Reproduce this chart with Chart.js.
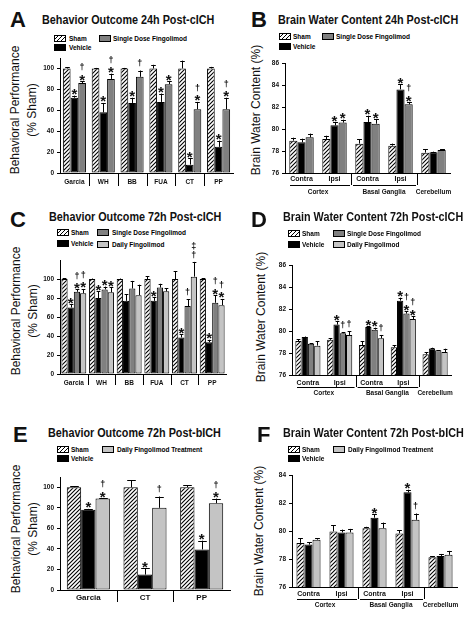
<!DOCTYPE html>
<html lang="en">
<head>
<meta charset="UTF-8" />
<title>Fingolimod after ICH</title>
<script src="https://cdn.jsdelivr.net/npm/chart.js"></script>
<style>
  body { margin: 0; background: #fff; font-family: Arial, "Liberation Sans", sans-serif; color: #111; }
  #page { position: relative; width: 472px; height: 619px; overflow: hidden; }
  canvas { position: absolute; }
  .letter { position: absolute; font-weight: bold; font-size: 22px; line-height: 1; }
  .title { position: absolute; font-weight: bold; font-size: 12px; line-height: 12px; white-space: nowrap;
           transform: scaleX(0.9); transform-origin: left center; }
  .ytitle { position: absolute; font-size: 12px; line-height: 17px; white-space: nowrap; text-align: center;
            transform: translate(-50%, -50%) rotate(-90deg); }
  .box { position: absolute; box-sizing: border-box; width: 12px; height: 7px; border: 1px solid #000; }
  .sham { background: repeating-linear-gradient(135deg, #fff 0 1.6px, #000 1.6px 2.8px); }
  .veh { background: #000; }
  .single { background: #808080; }
  .daily { background: #c4c4c4; }
  .lab { position: absolute; font-size: 6.5px; font-weight: bold; line-height: 7px; white-space: nowrap; color: #000;
         -webkit-font-smoothing: antialiased; }
</style>
</head>
<body>
<div id="page">
  <!-- A -->
  <div class="letter" style="left:10px;top:9px">A</div>
  <div class="title" style="left:42px;top:14px">Behavior Outcome 24h Post-cICH</div>
  <div class="box sham" style="left:54px;top:35px"></div><div class="lab" style="left:69px;top:35px">Sham</div>
  <div class="box veh" style="left:54px;top:44px"></div><div class="lab" style="left:69px;top:44px">Vehicle</div>
  <div class="box single" style="left:99px;top:35px"></div><div class="lab" style="left:113px;top:35px">Single Dose Fingolimod</div>
  <div class="ytitle" style="left:23.5px;top:110px">Behavioral Performance<br>(% Sham)</div>
  <canvas id="cA" width="240" height="140" style="left:0;top:50px"></canvas>

  <!-- B -->
  <div class="letter" style="left:251px;top:9px">B</div>
  <div class="title" style="left:278px;top:14px">Brain Water Content 24h Post-cICH</div>
  <div class="box sham" style="left:279px;top:33px"></div><div class="lab" style="left:293px;top:33px">Sham</div>
  <div class="box veh" style="left:279px;top:43px"></div><div class="lab" style="left:293px;top:43px">Vehicle</div>
  <div class="box single" style="left:322px;top:33px"></div><div class="lab" style="left:336px;top:33px">Single Dose Fingolimod</div>
  <div class="ytitle" style="left:256px;top:110px">Brain Water Content (%)</div>
  <canvas id="cB" width="236" height="150" style="left:236px;top:50px"></canvas>

  <!-- C -->
  <div class="letter" style="left:10px;top:209px">C</div>
  <div class="title" style="left:49px;top:211px">Behavior Outcome 72h Post-cICH</div>
  <div class="box sham" style="left:57px;top:229px"></div><div class="lab" style="left:71px;top:229px">Sham</div>
  <div class="box single" style="left:97px;top:229px"></div><div class="lab" style="left:112px;top:229px">Single Dose Fingolimod</div>
  <div class="box veh" style="left:57px;top:240px"></div><div class="lab" style="left:71px;top:240px">Vehicle</div>
  <div class="box daily" style="left:97px;top:241px"></div><div class="lab" style="left:112px;top:241px">Daily Fingolimod</div>
  <div class="ytitle" style="left:25px;top:311px">Behavioral Performance<br>(% Sham)</div>
  <canvas id="cC" width="240" height="160" style="left:0;top:235px"></canvas>

  <!-- D -->
  <div class="letter" style="left:251px;top:209px">D</div>
  <div class="title" style="left:283px;top:211px">Brain Water Content 72h Post-cICH</div>
  <div class="box sham" style="left:288px;top:230px"></div><div class="lab" style="left:302px;top:230px">Sham</div>
  <div class="box single" style="left:333px;top:230px"></div><div class="lab" style="left:347px;top:230px">Single Dose Fingolimod</div>
  <div class="box veh" style="left:288px;top:241px"></div><div class="lab" style="left:302px;top:241px">Vehicle</div>
  <div class="box daily" style="left:333px;top:241px"></div><div class="lab" style="left:347px;top:241px">Daily Fingolimod</div>
  <div class="ytitle" style="left:261px;top:317px">Brain Water Content (%)</div>
  <canvas id="cD" width="236" height="155" style="left:236px;top:250px"></canvas>

  <!-- E -->
  <div class="letter" style="left:13px;top:424px">E</div>
  <div class="title" style="left:48px;top:427px">Behavior Outcome 72h Post-bICH</div>
  <div class="box sham" style="left:57px;top:446px"></div><div class="lab" style="left:71px;top:446px">Sham</div>
  <div class="box daily" style="left:102px;top:446px"></div><div class="lab" style="left:117px;top:446px">Daily Fingolimod Treatment</div>
  <div class="box veh" style="left:57px;top:455px"></div><div class="lab" style="left:71px;top:455px">Vehicle</div>
  <div class="ytitle" style="left:25px;top:529px">Behavioral Performance<br>(% Sham)</div>
  <canvas id="cE" width="240" height="150" style="left:0;top:465px"></canvas>

  <!-- F -->
  <div class="letter" style="left:257px;top:424px">F</div>
  <div class="title" style="left:283px;top:427px">Brain Water Content 72h Post-bICH</div>
  <div class="box sham" style="left:288px;top:446px"></div><div class="lab" style="left:302px;top:446px">Sham</div>
  <div class="box daily" style="left:333px;top:446px"></div><div class="lab" style="left:348px;top:446px">Daily Fingolimod Treatment</div>
  <div class="box veh" style="left:288px;top:455px"></div><div class="lab" style="left:302px;top:455px">Vehicle</div>
  <div class="ytitle" style="left:259px;top:531px">Brain Water Content (%)</div>
  <canvas id="cF" width="236" height="150" style="left:236px;top:465px"></canvas>
</div>

<script>
  // ---- data (mean and SEM above the mean) ----
  const behaviorTests = ["Garcia", "WH", "BB", "FUA", "CT", "PP"];
  const bichTests = ["Garcia", "CT", "PP"];
  const waterSides = ["Contra", "Ipsi", "Contra", "Ipsi", ""];
  const waterRegions = ["Cortex", "Basal Ganglia", "Cerebellum"];
  const regionStart = [0, 2, 4];
  const regionEnd = [1, 3, 4];

  // A: behavior 24h post-cICH
  const aSham = [100, 100, 100, 100, 100, 100];
  const aShamErr = [1, 0.5, 0.5, 3.5, 7.5, 1.5];
  const aVeh = [72, 58, 67, 68, 8, 25];
  const aVehErr = [2, 9, 5, 8, 6, 6];
  const aVehMarks = ["*", "*", "*", "*", "*", "*"];
  const aSingle = [86, 90, 92, 85, 61, 61];
  const aSingleErr = [2, 5, 6, 3, 7, 11];
  const aSingleMarks = ["†*", "†*", "†", "*", "†*", "†*"];

  // B: brain water 24h post-cICH
  const bSham = [78.94, 79.09, 78.67, 78.48, 77.85];
  const bShamErr = [0.27, 0.3, 0.42, 0.19, 0.3];
  const bVeh = [78.79, 80.33, 80.64, 83.6, 77.88];
  const bVehErr = [0.33, 0.27, 0.57, 0.49, 0.06];
  const bVehMarks = ["", "*", "*", "*", ""];
  const bSingle = [79.24, 80.58, 80.48, 82.24, 78.09];
  const bSingleErr = [0.34, 0.27, 0.4, 0.18, 0.06];
  const bSingleMarks = ["", "*", "*", "†*", ""];

  // C: behavior 72h post-cICH
  const cSham = [100, 100, 100, 100, 100, 100];
  const cShamErr = [1, 0.5, 0.5, 3, 8, 1];
  const cVeh = [70, 80, 77, 77, 38.5, 33.5];
  const cVehErr = [3.5, 7, 7, 4, 3.5, 2.5];
  const cVehMarks = ["*", "*", "", "*", "*", "*"];
  const cSingle = [86.5, 89, 90, 91, 71.5, 75];
  const cSingleErr = [2.5, 3, 8, 4, 7, 8];
  const cSingleMarks = ["†*", "*", "", "", "†", "†*"];
  const cDaily = [85, 86, 83, 87, 102.5, 72.5];
  const cDailyErr = [4.5, 5.5, 11, 3.5, 15.5, 6.5];
  const cDailyMarks = ["†*", "*", "", "", "‡†", "†*"];

  // D: brain water 72h post-cICH
  const dSham = [79.09, 79.2, 78.73, 78.52, 77.88];
  const dShamErr = [0.15, 0.16, 0.36, 0.18, 0.21];
  const dVeh = [79.45, 80.58, 80.36, 82.76, 78.42];
  const dVehErr = [0.05, 0.3, 0.09, 0.27, 0.06];
  const dVehMarks = ["", "*", "*", "*", ""];
  const dSingle = [78.85, 79.8, 80.12, 81.58, 78.24];
  const dSingleErr = [0.05, 0.1, 0.18, 0.21, 0.03];
  const dSingleMarks = ["", "†", "*", "†*", ""];
  const dDaily = [78.67, 79.64, 79.33, 81.09, 78.09];
  const dDailyErr = [0.39, 0.33, 0.31, 0.24, 0.3];
  const dDailyMarks = ["", "†", "†", "†*", ""];

  // E: behavior 72h post-bICH
  const eSham = [100, 100, 100];
  const eShamErr = [1, 7, 2];
  const eVeh = [78, 15, 39.5];
  const eVehErr = [1, 6, 8.5];
  const eVehMarks = ["*", "*", "*"];
  const eDaily = [89, 80, 84.5];
  const eDailyErr = [0.5, 11, 4.5];
  const eDailyMarks = ["†*", "†", "†*"];

  // F: brain water 72h post-bICH
  const fSham = [79.15, 79.97, 80.2, 79.83, 78.13];
  const fShamErr = [0.35, 0.43, 0.1, 0.22, 0.07];
  const fVeh = [79.03, 79.9, 80.95, 82.76, 78.22];
  const fVehErr = [0.17, 0.2, 0.25, 0.19, 0.14];
  const fVehMarks = ["", "", "*", "*", ""];
  const fDaily = [79.38, 79.9, 80.2, 80.8, 78.3];
  const fDailyErr = [0.1, 0.25, 0.4, 0.45, 0.28];
  const fDailyMarks = ["", "", "", "†", ""];

  // ---- drawing helpers ----
  function makeHatch() {
    const c = document.createElement("canvas");
    c.width = 4; c.height = 4;
    const g = c.getContext("2d");
    g.fillStyle = "#fff";
    g.fillRect(0, 0, 4, 4);
    g.strokeStyle = "#000";
    g.lineWidth = 1.1;
    g.beginPath();
    g.moveTo(0, 4); g.lineTo(4, 0);
    g.moveTo(-1, 1); g.lineTo(1, -1);
    g.moveTo(3, 5); g.lineTo(5, 3);
    g.stroke();
    return g.createPattern(c, "repeat");
  }
  const hatch = makeHatch();
  const fills = { Sham: hatch, Vehicle: "#000", Single: "#808080", Daily: "#c4c4c4" };

  // error whiskers (upper half only) and significance symbols
  const errorMarks = {
    id: "errorMarks",
    afterDatasetsDraw(chart) {
      const ctx = chart.ctx;
      const y = chart.scales.y;
      chart.data.datasets.forEach((ds, di) => {
        chart.getDatasetMeta(di).data.forEach((bar, i) => {
          const top = y.getPixelForValue(ds.data[i] + ds.errors[i]);
          const bx = Math.round(bar.x) + 0.5;
          const half = bar.width * 0.3;
          ctx.save();
          ctx.strokeStyle = "#000";
          ctx.lineWidth = 1;
          ctx.beginPath();
          ctx.moveTo(bx, bar.y);
          ctx.lineTo(bx, top);
          ctx.moveTo(bx - half, Math.round(top) + 0.5);
          ctx.lineTo(bx + half, Math.round(top) + 0.5);
          ctx.stroke();
          ctx.fillStyle = "#111";
          ctx.textAlign = "center";
          ctx.textBaseline = "alphabetic";
          const m = ds.marks[i] || "";
          let cursor = top - 3;
          for (let k = m.length - 1; k >= 0; k--) {
            if (m[k] === "*") {
              ctx.font = "bold 15px Arial";
              ctx.fillText("*", bar.x, cursor + 6.5);
              cursor -= 6.5;
            } else {
              ctx.font = "bold 9px Arial";
              ctx.fillText(m[k], bar.x, cursor - 1.4);
              cursor -= 9;
            }
          }
          ctx.restore();
        });
      });
    }
  };

  // group separators below the x axis, plus region brackets for brain water panels
  const groupAxis = {
    id: "groupAxis",
    afterDraw(chart, args, opts) {
      const { ctx, chartArea: a, scales: { x } } = chart;
      const pitch = x.getPixelForValue(1) - x.getPixelForValue(0);
      const edge = (i) => x.getPixelForValue(i) - pitch / 2;
      ctx.save();
      ctx.strokeStyle = "#000";
      ctx.lineWidth = 1;
      ctx.beginPath();
      opts.bounds.forEach((i) => {
        const px = Math.round(edge(i)) + 0.5;
        ctx.moveTo(px, a.bottom);
        ctx.lineTo(px, a.bottom + opts.depth);
      });
      if (opts.regions) {
        opts.regions.forEach((name, r) => {
          const s = opts.starts[r], e = opts.ends[r];
          if (e > s) {
            const ly = Math.round(a.bottom + opts.depth) + 0.5;
            ctx.moveTo(edge(s) + (s === 0 ? 5 : 2), ly);
            ctx.lineTo(edge(e + 1) - 1, ly);
          }
        });
      }
      ctx.stroke();
      if (opts.regions) {
        ctx.font = "bold 6.5px Arial";
        ctx.fillStyle = "#111";
        ctx.textAlign = "center";
        ctx.textBaseline = "middle";
        opts.regions.forEach((name, r) => {
          const cx = (edge(opts.starts[r]) + edge(opts.ends[r] + 1)) / 2;
          ctx.fillText(name, cx, a.bottom + opts.labelGap);
        });
      }
      ctx.restore();
    }
  };

  function panel(id, o) {
    return new Chart(document.getElementById(id), {
      type: "bar",
      data: {
        labels: o.labels,
        datasets: o.series.map((s) => ({
          label: s.name,
          data: s.data,
          errors: s.err,
          marks: s.marks,
          backgroundColor: fills[s.fill],
          borderColor: "#000",
          borderWidth: 1,
          borderSkipped: false,
          barPercentage: 1,
          categoryPercentage: o.cat
        }))
      },
      options: {
        responsive: false,
        animation: false,
        layout: { padding: o.pad },
        plugins: {
          legend: { display: false },
          tooltip: { enabled: false },
          groupAxis: o.groups
        },
        scales: {
          x: {
            grid: { display: false, drawTicks: false },
            border: { color: "#000", width: 1 },
            ticks: {
              color: "#111",
              font: { family: "Arial", size: o.xFont, weight: "bold" },
              padding: o.xPad,
              autoSkip: false,
              maxRotation: 0
            },
            afterFit: (s) => { s.height = o.xH; }
          },
          y: {
            min: o.min,
            max: o.max,
            grid: { display: true, drawOnChartArea: false, drawTicks: true, tickLength: 3, color: "#000" },
            border: { color: "#000", width: 1 },
            ticks: {
              stepSize: o.step,
              color: "#111",
              font: { family: "Arial", size: 6.5, weight: "bold" },
              padding: 3
            },
            afterBuildTicks: (s) => { s.ticks = s.ticks.filter((t) => t.value <= o.topTick); },
            afterFit: (s) => { s.width = o.yW; }
          }
        }
      },
      plugins: [errorMarks, groupAxis]
    });
  }

  const allBounds = (n) => Array.from({ length: n - 1 }, (_, i) => i + 1);

  panel("cA", {
    labels: behaviorTests, min: 0, max: 110, step: 20, topTick: 100, cat: 0.8,
    pad: { top: 8, right: 7, left: 0, bottom: 0 }, yW: 60, xH: 17, xFont: 6.5, xPad: 5,
    groups: { bounds: allBounds(behaviorTests.length), depth: 13 },
    series: [
      { name: "Sham", fill: "Sham", data: aSham, err: aShamErr, marks: [] },
      { name: "Vehicle", fill: "Vehicle", data: aVeh, err: aVehErr, marks: aVehMarks },
      { name: "Single Dose Fingolimod", fill: "Single", data: aSingle, err: aSingleErr, marks: aSingleMarks }
    ]
  });

  panel("cB", {
    labels: waterSides, min: 76, max: 86, step: 2, topTick: 86, cat: 0.74,
    pad: { top: 13, right: 22, left: 0, bottom: 0 }, yW: 49, xH: 27, xFont: 7, xPad: 2,
    groups: { bounds: [2, 4], depth: 12, regions: waterRegions, starts: regionStart, ends: regionEnd, labelGap: 19 },
    series: [
      { name: "Sham", fill: "Sham", data: bSham, err: bShamErr, marks: [] },
      { name: "Vehicle", fill: "Vehicle", data: bVeh, err: bVehErr, marks: bVehMarks },
      { name: "Single Dose Fingolimod", fill: "Single", data: bSingle, err: bSingleErr, marks: bSingleMarks }
    ]
  });

  panel("cC", {
    labels: behaviorTests, min: 0, max: 120, step: 20, topTick: 100, cat: 0.9,
    pad: { top: 25, right: 14, left: 0, bottom: 0 }, yW: 60, xH: 21, xFont: 6.5, xPad: 5,
    groups: { bounds: allBounds(behaviorTests.length), depth: 11 },
    series: [
      { name: "Sham", fill: "Sham", data: cSham, err: cShamErr, marks: [] },
      { name: "Vehicle", fill: "Vehicle", data: cVeh, err: cVehErr, marks: cVehMarks },
      { name: "Single Dose Fingolimod", fill: "Single", data: cSingle, err: cSingleErr, marks: cSingleMarks },
      { name: "Daily Fingolimod", fill: "Daily", data: cDaily, err: cDailyErr, marks: cDailyMarks }
    ]
  });

  panel("cD", {
    labels: waterSides, min: 76, max: 86, step: 2, topTick: 86, cat: 0.79,
    pad: { top: 15, right: 21, left: 0, bottom: 0 }, yW: 56, xH: 30, xFont: 7, xPad: 4,
    groups: { bounds: [2, 4], depth: 12, regions: waterRegions, starts: regionStart, ends: regionEnd, labelGap: 18 },
    series: [
      { name: "Sham", fill: "Sham", data: dSham, err: dShamErr, marks: [] },
      { name: "Vehicle", fill: "Vehicle", data: dVeh, err: dVehErr, marks: dVehMarks },
      { name: "Single Dose Fingolimod", fill: "Single", data: dSingle, err: dSingleErr, marks: dSingleMarks },
      { name: "Daily Fingolimod", fill: "Daily", data: dDaily, err: dDailyErr, marks: dDailyMarks }
    ]
  });

  panel("cE", {
    labels: bichTests, min: 0, max: 110, step: 20, topTick: 100, cat: 0.76,
    pad: { top: 12, right: 10, left: 0, bottom: 0 }, yW: 60, xH: 25, xFont: 8, xPad: 3,
    groups: { bounds: allBounds(bichTests.length), depth: 12 },
    series: [
      { name: "Sham", fill: "Sham", data: eSham, err: eShamErr, marks: [] },
      { name: "Vehicle", fill: "Vehicle", data: eVeh, err: eVehErr, marks: eVehMarks },
      { name: "Daily Fingolimod Treatment", fill: "Daily", data: eDaily, err: eDailyErr, marks: eDailyMarks }
    ]
  });

  panel("cF", {
    labels: waterSides, min: 76, max: 84, step: 2, topTick: 84, cat: 0.73,
    pad: { top: 10, right: 15, left: 0, bottom: 0 }, yW: 56, xH: 28, xFont: 7, xPad: 3,
    groups: { bounds: [2, 4], depth: 12, regions: waterRegions, starts: regionStart, ends: regionEnd, labelGap: 18 },
    series: [
      { name: "Sham", fill: "Sham", data: fSham, err: fShamErr, marks: [] },
      { name: "Vehicle", fill: "Vehicle", data: fVeh, err: fVehErr, marks: fVehMarks },
      { name: "Daily Fingolimod Treatment", fill: "Daily", data: fDaily, err: fDailyErr, marks: fDailyMarks }
    ]
  });
</script>
</body>
</html>
